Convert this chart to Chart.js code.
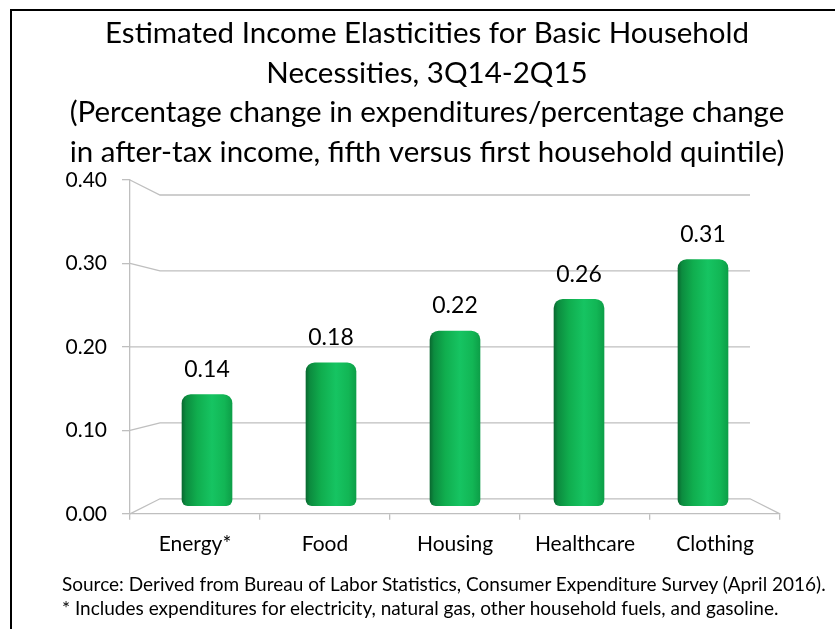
<!DOCTYPE html>
<html>
<head>
<meta charset="utf-8">
<script src="https://cdn.jsdelivr.net/npm/chart.js@4.4.1/dist/chart.umd.min.js"></script>
<style>
  html, body { margin: 0; padding: 0; background: #fff; overflow: hidden; }
  #wrap { position: relative; width: 835px; height: 629px; overflow: hidden; }
  #frame { position: absolute; left: 10px; top: 9px; width: 900px; height: 700px; border: 2px solid #000; box-sizing: border-box; }
  #chart { position: absolute; left: 0; top: 0; }
  .note { position: absolute; left: 62px; font-family: Lato, sans-serif; font-size: 19px; color: #000; white-space: nowrap; line-height: 24px; }
</style>
</head>
<body>
<div id="wrap">
  <div id="frame"></div>
  <canvas id="chart" width="835" height="629"></canvas>
  <div class="note" id="note1" style="top:572px"></div>
  <div class="note" id="note2" style="top:596px"></div>
</div>
<script>
// data
const categories = ['Energy*', 'Food', 'Housing', 'Healthcare', 'Clothing'];
const elasticities = [0.14, 0.18, 0.22, 0.26, 0.31];
const valueLabels = ['0.14', '0.18', '0.22', '0.26', '0.31'];
const yTicks = [0, 0.1, 0.2, 0.3, 0.4];
const titleLines = [
  'Estimated Income Elasticities for Basic Household',
  'Necessities, 3Q14-2Q15',
  '(Percentage change in expenditures/percentage change',
  'in after-tax income, fifth versus first household quintile)'
];
const footnotes = [
  'Source: Derived from Bureau of Labor Statistics, Consumer Expenditure Survey (April 2016).',
  '* Includes expenditures for electricity, natural gas, other household fuels, and gasoline.'
];

document.getElementById('note1').textContent = footnotes[0];
document.getElementById('note2').textContent = footnotes[1];

const FONT = 'Lato';
const GRID = '#bfbfbf';

// bars stand a bit behind the front axis, back wall further back (fake 3D)
function backY(chart, v){
  const y = chart.scales.y;
  const mid = y.getPixelForValue(0.2);
  return mid + (y.getPixelForValue(v) - mid) * 0.91;
}

const wallPlugin = {
  id: 'wall',
  beforeDatasetsDraw(chart){
    const {ctx, chartArea: a} = chart;
    const y = chart.scales.y;
    const d = 30;
    ctx.save();
    ctx.strokeStyle = GRID;
    ctx.lineWidth = 1.3;
    yTicks.forEach(v => {
      const yf = y.getPixelForValue(v);
      const yb = backY(chart, v);
      ctx.beginPath();
      ctx.moveTo(a.left, yf);
      ctx.lineTo(a.left + d, yb);
      ctx.lineTo(a.right - d, yb);
      if (v === 0) ctx.lineTo(a.right, yf);
      ctx.stroke();
    });
    ctx.restore();
  }
};

const labelPlugin = {
  id: 'valueLabels',
  afterDatasetsDraw(chart){
    const {ctx} = chart;
    const meta = chart.getDatasetMeta(0);
    ctx.save();
    ctx.font = '23px ' + FONT;
    ctx.fillStyle = '#000';
    ctx.textAlign = 'center';
    ctx.textBaseline = 'middle';
    meta.data.forEach((bar, i) => {
      ctx.fillText(valueLabels[i], bar.x, bar.y - 25);
    });
    ctx.restore();
  }
};

function barFill(c){
  const chart = c.chart;
  if (!chart.chartArea || c.dataIndex == null) return '#12b050';
  const cx = chart.scales.xBar.getPixelForValue(c.dataIndex);
  const g = chart.ctx.createLinearGradient(cx - 25, 0, cx + 25, 0);
  g.addColorStop(0, '#0a6a31');
  g.addColorStop(0.08, '#0c8c3f');
  g.addColorStop(0.3, '#10ad4e');
  g.addColorStop(0.6, '#16c462');
  g.addColorStop(0.85, '#12b655');
  g.addColorStop(1, '#0d9f48');
  return g;
}

new Chart(document.getElementById('chart'), {
  type: 'bar',
  data: {
    labels: categories,
    datasets: [{
      data: elasticities.map((v, i) => ({x: i, y: v})),
      xAxisID: 'xBar',
      yAxisID: 'yBar',
      backgroundColor: barFill,
      barThickness: 50,
      borderRadius: {topLeft: 9, topRight: 9, bottomLeft: 6, bottomRight: 6},
      borderSkipped: false
    }]
  },
  options: {
    responsive: false,
    animation: false,
    devicePixelRatio: 1,
    layout: { padding: { left: 19, right: 0, top: 4, bottom: 60 } },
    plugins: {
      legend: { display: false },
      tooltip: { enabled: false },
      title: {
        display: true,
        text: titleLines,
        color: '#000',
        font: { family: FONT, size: 29.5, weight: 'normal', lineHeight: 39.5 / 29.5 },
        padding: { top: 10, bottom: 8 }
      }
    },
    scales: {
      x: {
        type: 'category',
        labels: categories,
        offset: true,
        grid: { drawOnChartArea: false, offset: true, tickLength: 6, color: GRID, lineWidth: 1.3 },
        border: { color: GRID, width: 1.3 },
        ticks: { color: '#000', font: { family: FONT, size: 21 }, padding: 12, maxRotation: 0 }
      },
      y: {
        type: 'linear',
        min: 0, max: 0.4,
        afterBuildTicks: s => { s.ticks = yTicks.map(v => ({value: v})); },
        grid: { drawOnChartArea: false, tickLength: 8, color: GRID, lineWidth: 1.3 },
        border: { color: GRID, width: 1.3 },
        ticks: { color: '#000', font: { family: FONT, size: 21 }, padding: 15, callback: v => v.toFixed(2) },
        afterFit: s => { s.width = 111; }
      },
      // empty strip on the right so the title centres like the original
      yR: {
        type: 'linear', position: 'right', display: true,
        grid: { display: false }, border: { display: false }, ticks: { display: false },
        afterFit: s => { s.width = 55; }
      },
      xBar: { type: 'linear', display: false, offset: false, min: -0.621, max: 4.621 },
      yBar: { type: 'linear', display: false, min: -0.0101, max: 0.4101 }
    }
  },
  plugins: [wallPlugin, labelPlugin]
});
</script>
</body>
</html>
